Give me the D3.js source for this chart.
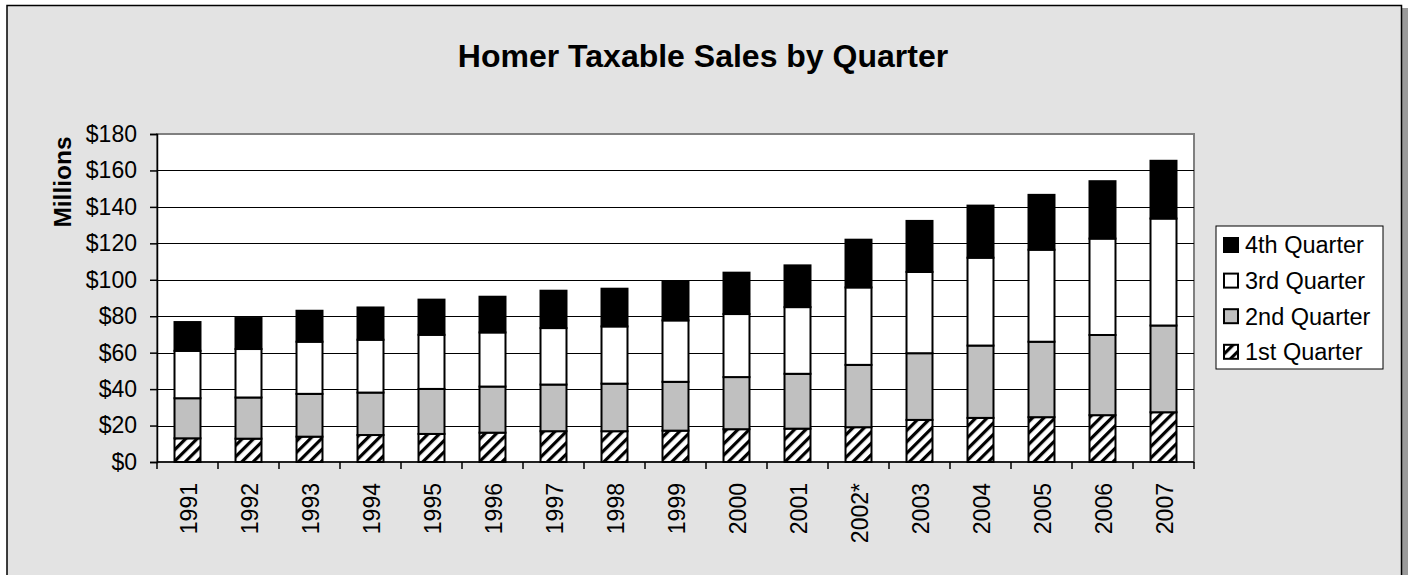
<!DOCTYPE html>
<html>
<head>
<meta charset="utf-8">
<script src="https://cdn.jsdelivr.net/npm/d3@7"></script>
<style>
  html, body { margin: 0; padding: 0; background: #ffffff; }
  svg { display: block; font-family: "Liberation Sans", Arial, sans-serif; }
</style>
</head>
<body>
<svg id="chart" width="1408" height="575"></svg>
<script>
// Homer taxable sales by quarter, $ millions
const years = ["1991","1992","1993","1994","1995","1996","1997","1998","1999","2000","2001","2002*","2003","2004","2005","2006","2007"];
const q1 = [13.0, 12.8, 13.9, 14.8, 15.4, 16.1, 16.9, 16.9, 17.2, 18.0, 18.3, 19.1, 23.1, 24.2, 24.6, 25.7, 27.3];
const q2 = [22.0, 22.6, 23.5, 23.3, 24.7, 25.3, 25.6, 26.1, 26.8, 28.6, 30.1, 34.2, 36.6, 39.7, 41.4, 44.0, 47.6];
const q3 = [26.0, 26.6, 28.6, 29.0, 29.7, 29.7, 31.0, 31.4, 33.7, 34.6, 36.6, 42.5, 44.6, 48.2, 50.5, 52.9, 58.7];
const q4 = [15.8, 17.0, 17.0, 17.7, 19.3, 19.6, 20.5, 20.7, 21.1, 22.7, 22.9, 26.2, 28.0, 28.6, 30.1, 31.5, 31.7];
const seriesNames = ["1st Quarter", "2nd Quarter", "3rd Quarter", "4th Quarter"];
const yTicks = [0, 20, 40, 60, 80, 100, 120, 140, 160, 180];

const rows = years.map((y, i) => ({ year: y, q1: q1[i], q2: q2[i], q3: q3[i], q4: q4[i] }));
const keys = ["q1", "q2", "q3", "q4"];
const fills = { q1: "url(#hatch)", q2: "#c0c0c0", q3: "#ffffff", q4: "#000000" };

const svg = d3.select("#chart");

// hatch for the first quarter
const defs = svg.append("defs");
const pat = defs.append("pattern")
  .attr("id", "hatch").attr("patternUnits", "userSpaceOnUse")
  .attr("width", 8).attr("height", 8)
  .attr("patternTransform", "rotate(45)");
pat.append("rect").attr("width", 8).attr("height", 8).attr("fill", "#fff");
pat.append("rect").attr("x", 0).attr("y", 0).attr("width", 3.2).attr("height", 8).attr("fill", "#000");

// chart area frame with shadow
svg.append("rect").attr("x", 10).attr("y", 8).attr("width", 1398).attr("height", 580).attr("fill", "#9a9a9a");
svg.append("rect").attr("x", 7).attr("y", 5.5).attr("width", 1394.5).attr("height", 580)
  .attr("fill", "#e3e3e3").attr("stroke", "#000").attr("stroke-width", 1.5);

const plotL = 157, plotR = 1194, plotT = 134, plotB = 462;

const x = d3.scaleBand().domain(years).range([plotL, plotR]).paddingInner(0.574).paddingOuter(0.287);
const y = d3.scaleLinear().domain([0, 180]).range([plotB, plotT]);

// plot area
svg.append("rect").attr("x", plotL).attr("y", plotT).attr("width", plotR - plotL).attr("height", plotB - plotT)
  .attr("fill", "#fff").attr("stroke", "#808080").attr("stroke-width", 2);

// gridlines
svg.append("g").selectAll("line").data(yTicks.filter(d => d > 0 && d < 180)).join("line")
  .attr("x1", plotL).attr("x2", plotR)
  .attr("y1", d => Math.round(y(d)) + 0.5).attr("y2", d => Math.round(y(d)) + 0.5)
  .attr("stroke", "#000").attr("stroke-width", 1);

// stacked bars
const stacked = d3.stack().keys(keys)(rows);
svg.append("g").selectAll("g").data(stacked).join("g")
  .attr("fill", d => fills[d.key])
  .selectAll("rect").data(d => d).join("rect")
  .attr("x", d => x(d.data.year))
  .attr("width", x.bandwidth())
  .attr("y", d => y(d[1]))
  .attr("height", d => y(d[0]) - y(d[1]))
  .attr("stroke", "#000").attr("stroke-width", 2);

// y axis
const yAxis = svg.append("g").attr("transform", `translate(${plotL},0)`)
  .call(d3.axisLeft(y).tickValues(yTicks).tickSize(7).tickPadding(13).tickFormat(d => "$" + d));
yAxis.select(".domain").attr("stroke", "#000").attr("stroke-width", 1.5);
yAxis.selectAll(".tick line").attr("stroke", "#000").attr("stroke-width", 1.5);
yAxis.selectAll(".tick text").attr("font-size", 23).attr("fill", "#000")
  .attr("font-family", "'Liberation Sans', Arial, sans-serif");

// x axis line and category dividers
svg.append("line").attr("x1", plotL).attr("x2", plotR).attr("y1", plotB).attr("y2", plotB)
  .attr("stroke", "#000").attr("stroke-width", 1.5);
const step = x.step();
const bounds = years.map(d => x(d) - (step - x.bandwidth()) / 2).concat([plotR]);
svg.append("g").selectAll("line").data(bounds).join("line")
  .attr("x1", d => d).attr("x2", d => d).attr("y1", plotB).attr("y2", plotB + 7)
  .attr("stroke", "#000").attr("stroke-width", 1.5);

// year labels
svg.append("g").selectAll("text").data(years).join("text")
  .attr("transform", d => `translate(${x(d) + x.bandwidth() / 2 + 1},${plotB + 21}) rotate(-90)`)
  .attr("text-anchor", "end").attr("dy", "0.35em")
  .attr("font-size", 23).attr("fill", "#000")
  .text(d => d);

// axis title
svg.append("text")
  .attr("transform", `translate(62,182) rotate(-90)`)
  .attr("text-anchor", "middle").attr("dy", "0.35em")
  .attr("font-size", 24.5).attr("font-weight", "bold").attr("fill", "#000")
  .text("Millions");

// chart title
svg.append("text").attr("x", 703).attr("y", 67).attr("text-anchor", "middle")
  .attr("font-size", 32).attr("font-weight", "bold").attr("fill", "#000")
  .text("Homer Taxable Sales by Quarter");

// legend, top entry is the 4th quarter
const legend = svg.append("g");
legend.append("rect").attr("x", 1216).attr("y", 226).attr("width", 167).attr("height", 143)
  .attr("fill", "#fff").attr("stroke", "#000").attr("stroke-width", 1);
const legendKeys = ["q4", "q3", "q2", "q1"];
const item = legend.selectAll("g.item").data(legendKeys).join("g")
  .attr("class", "item")
  .attr("transform", (d, i) => `translate(1224,${245 + i * 35.6})`);
item.append("rect").attr("x", 0).attr("y", -7).attr("width", 14).attr("height", 14)
  .attr("fill", d => fills[d]).attr("stroke", "#000").attr("stroke-width", 2);
item.append("text").attr("x", 21).attr("dy", "0.36em")
  .attr("font-size", 23.5).attr("fill", "#000")
  .text(d => seriesNames[keys.indexOf(d)]);
</script>
</body>
</html>
